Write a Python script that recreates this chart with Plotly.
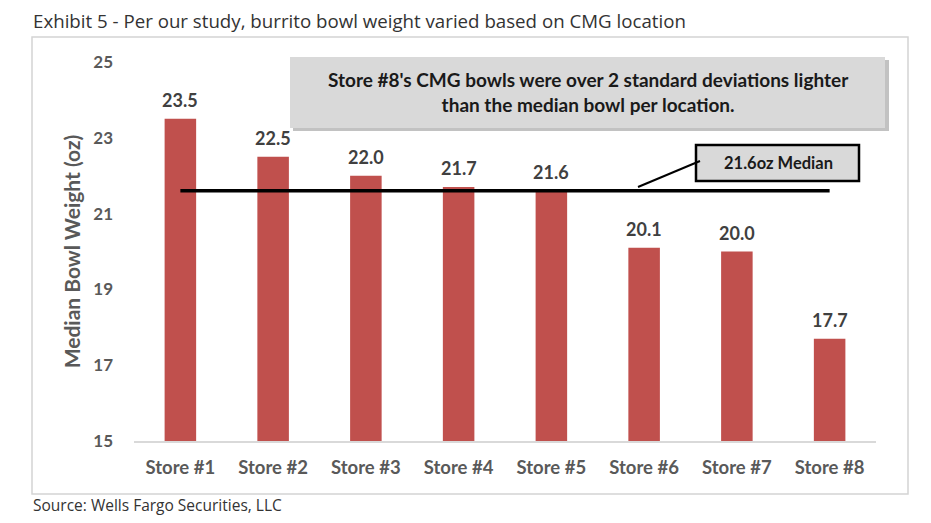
import plotly.graph_objs as go

stores = ["Store #1", "Store #2", "Store #3", "Store #4",
          "Store #5", "Store #6", "Store #7", "Store #8"]
weights = [23.5, 22.5, 22.0, 21.7, 21.6, 20.1, 20.0, 17.7]
median_weight = 21.6
y_ticks = [15, 17, 19, 21, 23, 25]

title_text = "Exhibit 5 - Per our study, burrito bowl weight varied based on CMG location"
source_text = "Source: Wells Fargo Securities, LLC"
callout_text = ("Store #8's CMG bowls were over 2 standard deviations lighter<br>"
                "than the median bowl per location.")
median_text = "21.6oz Median"

# page body has an 8px margin, so the figure is a bit smaller than the window
OFF = 8
W, H = 931 - 2 * OFF, 523 - 2 * OFF
L, R, T, B = 126, 47, 54, 74
PW, PH = W - L - R, H - T - B


# window pixel -> paper coords
def xp(px):
    return (px - OFF - L) / PW


def yp(py):
    return (H - B - (py - OFF)) / PH


FONT = "Lato, Carlito, Calibri, sans-serif"
TITLE_FONT = "Open Sans, Noto Sans, sans-serif"

fig = go.Figure()

# bars
fig.add_trace(go.Bar(
    x=stores, y=weights,
    marker=dict(color="#C0504D", line=dict(width=0)),
    showlegend=False, hoverinfo="x+y",
))

# median line
fig.add_trace(go.Scatter(
    x=[stores[0], stores[-1]], y=[median_weight, median_weight],
    mode="lines", line=dict(color="black", width=3.5),
    showlegend=False, hoverinfo="skip",
))

# value labels
for s, v in zip(stores, weights):
    fig.add_annotation(
        x=s, y=v, text="<b>%.1f</b>" % v, showarrow=False,
        yanchor="bottom", yshift=6,
        font=dict(family=FONT, size=18, color="#404040"),
    )

shapes = [
    # outer frame
    dict(type="rect", xref="paper", yref="paper",
         x0=xp(32), x1=xp(908), y0=yp(494), y1=yp(37),
         line=dict(color="#D4D4D4", width=1.5), layer="below"),
    # callout shadow
    dict(type="rect", xref="paper", yref="paper",
         x0=xp(293), x1=xp(889), y0=yp(131), y1=yp(60),
         fillcolor="#9A9A9A", line=dict(width=0), opacity=0.6),
    # callout box
    dict(type="rect", xref="paper", yref="paper",
         x0=xp(290), x1=xp(885), y0=yp(128), y1=yp(57),
         fillcolor="#D9D9D9", line=dict(width=0)),
    # median label box
    dict(type="rect", xref="paper", yref="paper",
         x0=xp(696), x1=xp(859), y0=yp(181), y1=yp(145),
         fillcolor="#D9D9D9", line=dict(color="black", width=2.5)),
    # leader line
    dict(type="line", xref="paper", yref="paper",
         x0=xp(638), x1=xp(700), y0=yp(187), y1=yp(161),
         line=dict(color="black", width=2)),
]

annotations = [
    dict(xref="paper", yref="paper", x=xp(31), y=yp(21), xanchor="left",
         yanchor="middle", text=title_text, showarrow=False,
         font=dict(family=TITLE_FONT, size=18.7, color="#333333")),
    dict(xref="paper", yref="paper", x=xp(31), y=yp(505), xanchor="left",
         yanchor="middle", text=source_text, showarrow=False,
         font=dict(family=TITLE_FONT, size=15.5, color="#333333")),
    dict(xref="paper", yref="paper", x=xp(588), y=yp(92), xanchor="center",
         yanchor="middle", text="<b>" + callout_text + "</b>", showarrow=False,
         font=dict(family=FONT, size=19, color="#1A1A1A"), align="center"),
    dict(xref="paper", yref="paper", x=xp(778), y=yp(163), xanchor="center",
         yanchor="middle", text="<b>" + median_text + "</b>", showarrow=False,
         font=dict(family=FONT, size=16.5, color="#1A1A1A")),
]

fig.update_layout(
    width=W, height=H,
    margin=dict(l=L, r=R, t=T, b=B, pad=0),
    paper_bgcolor="white", plot_bgcolor="white",
    bargap=0.66,
    shapes=shapes,
    font=dict(family=FONT),
)
fig.layout.annotations = list(fig.layout.annotations) + annotations

fig.update_xaxes(
    showgrid=False, showline=True, linecolor="#D9D9D9", linewidth=2,
    ticks="", tickfont=dict(family=FONT, size=18.5, color="#595959"),
    ticklabelstandoff=9,
)
fig.update_xaxes(ticktext=["<b>%s</b>" % s for s in stores], tickvals=stores)
fig.update_yaxes(
    range=[15, 25], tickvals=y_ticks,
    ticktext=["<b>%d</b>" % t for t in y_ticks],
    showgrid=False, zeroline=False, showline=False,
    tickfont=dict(family=FONT, size=17, color="#595959"),
    ticklabelstandoff=20,
    title=dict(text="<b>Median Bowl Weight (oz)</b>", standoff=6,
               font=dict(family=FONT, size=21, color="#595959")),
)

fig.write_html("out.html")
